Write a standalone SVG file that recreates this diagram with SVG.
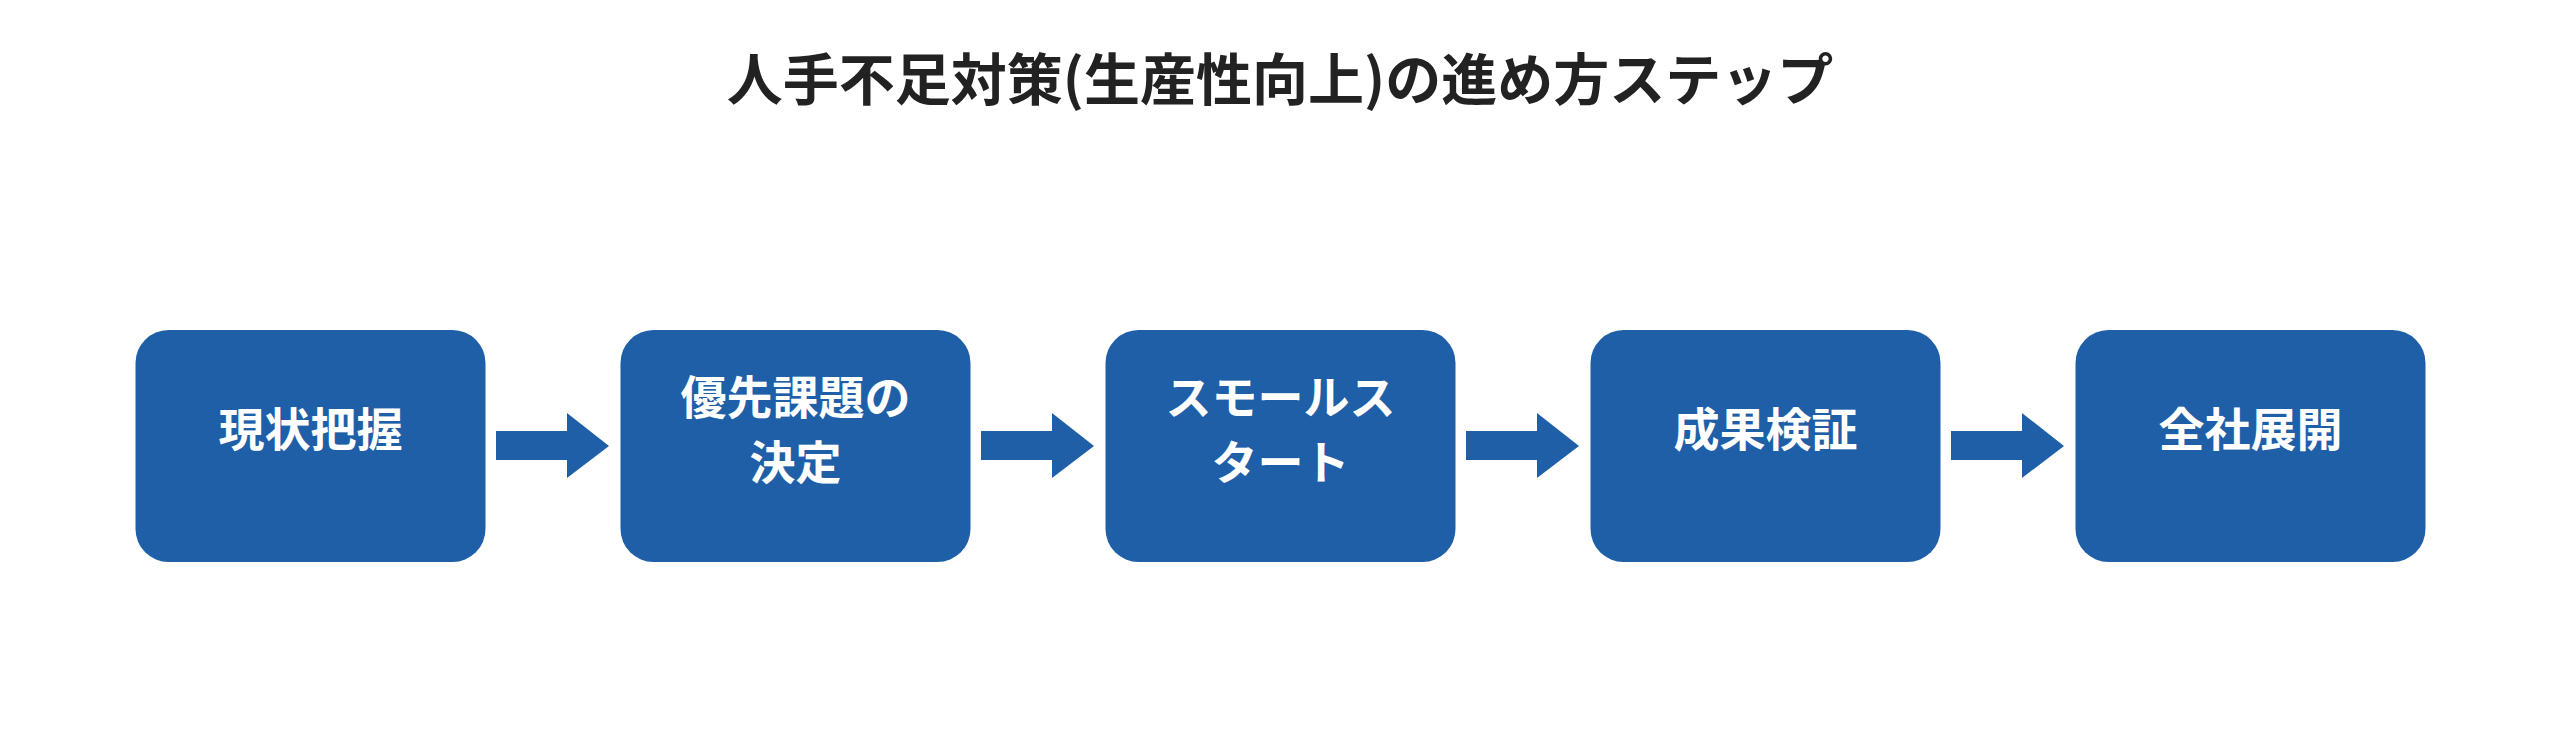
<svg xmlns="http://www.w3.org/2000/svg" width="2560" height="737" viewBox="0 0 2560 737">
<style>
.box{fill:#1f5fa8}
.t{fill:#fff;font-family:"Noto Sans CJK JP","Noto Sans",sans-serif;font-weight:bold;font-size:46px;text-anchor:middle}
.title{fill:#222;font-family:"Noto Sans CJK JP","Noto Sans",sans-serif;font-weight:bold;font-size:56px;text-anchor:middle}
.arr{fill:#1f5fa8}
</style>
<rect width="2560" height="737" fill="#fff"/>
<text class="title" x="1280" y="100">人手不足対策(生産性向上)の進め方ステップ</text>
<g id="n1"><rect class="box" x="135.5" y="330" width="350" height="232" rx="33"/><text class="t" x="310.5" y="446">現状把握</text></g>
<g id="n2"><rect class="box" x="620.5" y="330" width="350" height="232" rx="33"/><text class="t" x="795.5" y="414">優先課題の</text><text class="t" x="795.5" y="479">決定</text></g>
<g id="n3"><rect class="box" x="1105.5" y="330" width="350" height="232" rx="33"/><text class="t" x="1280.5" y="414">スモールス</text><text class="t" x="1280.5" y="479">タート</text></g>
<g id="n4"><rect class="box" x="1590.5" y="330" width="350" height="232" rx="33"/><text class="t" x="1765.5" y="446">成果検証</text></g>
<g id="n5"><rect class="box" x="2075.5" y="330" width="350" height="232" rx="33"/><text class="t" x="2250.5" y="446">全社展開</text></g>
<g id="connectors">
<polygon class="arr" points="496,431 567,431 567,413 609,446 567,478 567,460 496,460"/>
<polygon class="arr" transform="translate(485,0)" points="496,431 567,431 567,413 609,446 567,478 567,460 496,460"/>
<polygon class="arr" transform="translate(970,0)" points="496,431 567,431 567,413 609,446 567,478 567,460 496,460"/>
<polygon class="arr" transform="translate(1455,0)" points="496,431 567,431 567,413 609,446 567,478 567,460 496,460"/>
</g>
</svg>
